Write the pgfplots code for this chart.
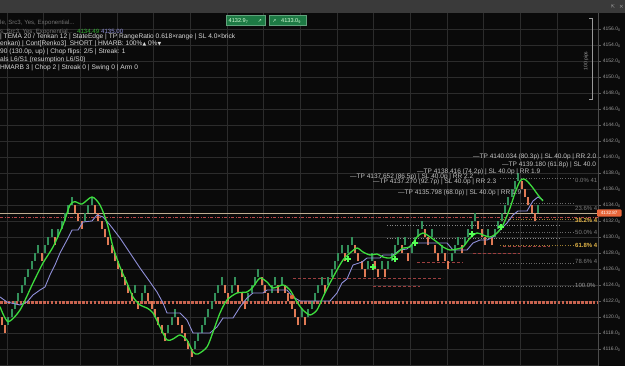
\documentclass[border=0pt]{standalone}
\usepackage{fontspec}
\setmainfont{Liberation Sans}
\newfontfamily\dejavu{DejaVu Sans}
\usepackage{pgfplots}
\pgfplotsset{compat=1.18}
\definecolor{bg}{HTML}{0A0A0A}
\definecolor{topbar}{HTML}{3A3A3A}
\definecolor{gridc}{HTML}{2C2C2C}
\definecolor{bgreen}{HTML}{33905A}
\definecolor{borange}{HTML}{E07A55}
\definecolor{tema}{HTML}{3DDC3D}
\definecolor{tenkan}{HTML}{9090DA}
\definecolor{beige}{HTML}{BFAE92}
\definecolor{redd}{HTML}{B84A4A}
\definecolor{salmon}{HTML}{C9634F}
\definecolor{txt}{HTML}{DADADA}
\definecolor{dim}{HTML}{727272}
\definecolor{tpc}{HTML}{C4C4C4}
\definecolor{gold}{HTML}{E2B447}
\definecolor{lab}{HTML}{9A9A9A}
\definecolor{boxg}{HTML}{1D7A44}
\definecolor{tag}{HTML}{E8663A}
\definecolor{fibc}{HTML}{6A6A6A}
\definecolor{sig}{HTML}{55FF55}
\begin{document}
\begin{tikzpicture}[x=1pt,y=1pt]
\useasboundingbox (0,0) rectangle (625,366);
\fill[bg] (0,0) rectangle (625,366);
\begin{axis}[at={(0pt,0pt)}, anchor=south west, scale only axis,
  width=598pt, height=353.3pt,
  xmin=0, xmax=598, ymin=4113.9125, ymax=4158.075,
  axis line style={draw=none},
  xtick={7,43.67,80.33,117,153.67,190.33,227,263.67,300.33,337,373.67,410.33,447,483.67,520.33,557},
  xticklabels={}, xtick style={draw=none},
  ytick={4116,4118,...,4156}, ytick pos=right, yticklabel pos=right,
  extra y ticks={4114}, extra y tick labels={}, extra y tick style={major tick length=0pt},
  tick align=outside, major tick length=3pt,
  ytick style={color=lab!60!black, line width=0.4pt},
  yticklabel={\pgfmathprintnumber[fixed,fixed zerofill,precision=1,1000 sep={},assume math mode=true]{\tick}\raisebox{-0.4ex}{\fontsize{3.6}{4}\selectfont 0}},
  yticklabel style={font=\fontsize{5}{6}\selectfont, text=lab, inner sep=0.5pt, xshift=1.2pt},
  grid=major, major grid style={gridc, line width=0.5pt},
  clip=true]
% level lines
\addplot[salmon, line width=2.6pt, dash pattern=on 2.6pt off 1.3pt] coordinates {(0,4121.88) (598,4121.88)};
\addplot[beige, line width=1.4pt] coordinates {(0,4133.0) (598,4133.0)};
\addplot[redd, line width=0.7pt, dash pattern=on 3pt off 1.5pt on 1pt off 1.5pt] coordinates {(0,4132.54) (598,4132.54)};
% fib dotted lines
\addplot[fibc, line width=0.6pt, dotted] coordinates {(500,4137.4) (573,4137.4)};
\addplot[fibc, line width=0.6pt, dotted] coordinates {(500,4134.2) (573,4134.2)};
\addplot[gold!70!black, line width=0.6pt, dotted] coordinates {(500,4132.2) (573,4132.2)};
\addplot[fibc, line width=0.6pt, dotted] coordinates {(500,4130.65) (573,4130.65)};
\addplot[gold!70!black, line width=0.6pt, dotted] coordinates {(500,4129.06) (573,4129.06)};
\addplot[fibc, line width=0.6pt, dotted] coordinates {(500,4126.8) (573,4126.8)};
\addplot[fibc, line width=0.6pt, dotted] coordinates {(500,4123.9) (573,4123.9)};
\addplot[fibc!80!white, line width=0.6pt, dotted] coordinates {(387,4131.54) (560,4131.54)};
\addplot[fibc!80!white, line width=0.6pt, dotted] coordinates {(387,4129.87) (560,4129.87)};
% red dashed short lines
\addplot[redd!85!black, line width=0.7pt, dash pattern=on 3pt off 2pt] coordinates {(503,4128.9) (550,4128.9)};
\addplot[redd!85!black, line width=0.7pt, dash pattern=on 3pt off 2pt] coordinates {(473,4128.0) (520,4128.0)};
\addplot[redd!85!black, line width=0.7pt, dash pattern=on 3pt off 2pt] coordinates {(417,4126.9) (463,4126.9)};
\addplot[redd!85!black, line width=0.7pt, dash pattern=on 3pt off 2pt] coordinates {(293,4124.9) (443,4124.9)};
\addplot[redd!85!black, line width=0.7pt, dash pattern=on 3pt off 2pt] coordinates {(373,4123.9) (420,4123.9)};
% green bricks
\addplot[bgreen, line width=2pt, quiver={u=0,v=1}] table[x=x,y=y] {
x y
8.4 4119
11.7 4120
15.0 4121
18.4 4122
21.7 4123
25.0 4124
28.4 4125
31.7 4126
35.0 4127
38.4 4128
45.0 4128
48.4 4129
51.7 4130
58.4 4130
61.7 4131
65.0 4132
68.4 4133
71.7 4134
85.0 4132
88.4 4133
91.7 4134
135.0 4123
141.7 4122
145.0 4123
168.4 4118
171.7 4119
175.0 4120
195.0 4116
198.4 4117
201.7 4118
205.0 4119
208.4 4120
211.7 4121
215.0 4122
218.4 4123
221.7 4124
231.7 4123
235.0 4124
248.4 4122
251.7 4123
255.0 4124
258.4 4125
271.7 4123
275.0 4124
281.7 4124
301.7 4120
308.4 4120
311.7 4121
315.0 4122
318.4 4123
321.7 4124
328.4 4124
331.7 4125
335.0 4126
338.4 4127
341.7 4128
348.4 4128
351.7 4129
368.4 4126
371.7 4127
381.7 4126
388.4 4126
391.7 4127
395.0 4128
398.4 4129
405.0 4129
411.7 4128
415.0 4129
418.4 4130
421.7 4131
431.7 4130
441.7 4128
451.7 4127
455.0 4128
458.4 4129
465.0 4129
468.4 4130
471.7 4131
475.0 4132
488.4 4130
495.0 4130
498.4 4131
501.7 4132
505.0 4133
508.4 4134
511.7 4135
515.0 4136
518.4 4137
538.4 4133
};
% orange bricks
\addplot[borange, line width=2pt, quiver={u=0,v=1}] table[x=x,y=y] {
x y
1.7 4119
5.0 4118
41.7 4127
55.0 4129
75.0 4133
78.4 4132
81.7 4131
95.0 4133
98.4 4132
101.7 4131
105.0 4130
108.4 4129
111.7 4128
115.0 4127
118.4 4126
121.7 4125
125.0 4124
128.4 4123
131.7 4122
138.4 4121
148.4 4122
151.7 4121
155.0 4120
158.4 4119
161.7 4118
165.0 4117
178.4 4119
181.7 4118
185.0 4117
188.4 4116
191.7 4115
225.0 4123
228.4 4122
238.4 4123
241.7 4122
245.0 4121
261.7 4124
265.0 4123
268.4 4122
278.4 4123
285.0 4123
288.4 4122
291.7 4121
295.0 4120
298.4 4119
305.0 4119
325.0 4123
345.0 4127
355.0 4128
358.4 4127
361.7 4126
365.0 4125
375.0 4126
378.4 4125
385.0 4125
401.7 4128
408.4 4127
425.0 4130
428.4 4129
435.0 4128
438.4 4127
445.0 4127
448.4 4126
461.7 4128
478.4 4131
481.7 4130
485.0 4129
491.7 4129
521.7 4136
525.0 4135
528.4 4134
531.7 4133
535.0 4132
};
% Tenkan (purple)
\addplot[tenkan, line width=0.9pt] coordinates {
(0,4122.54) (7,4121.91) (20,4121.54) (27,4121.91) (33,4122.79) (40,4123.41) (45,4123.79)
(50,4125.29) (55,4126.54) (60,4128.04) (67,4129.66) (72,4130.91) (78,4130.91) (83,4131.91)
(92,4132.04) (97,4132.79) (103,4132.54) (110,4131.54) (120,4129.91) (130,4128.04) (140,4126.16)
(150,4124.41) (157,4123.16) (163,4121.79) (167,4120.54) (180,4120.54) (187,4119.66) (193,4118.04)
(210,4118.04) (217,4118.79) (223,4119.91) (233,4119.91) (240,4121.29) (247,4122.41) (253,4123.04)
(263,4123.04) (267,4123.41) (287,4123.41) (293,4122.54) (300,4122.04) (330,4122.04) (337,4123.04)
(342,4124.29) (347,4124.79) (353,4126.54) (362,4126.91) (367,4127.41) (380,4127.41) (383,4127.79)
(393,4127.79) (400,4128.41) (407,4128.54) (413,4129.29) (447,4129.29) (453,4128.41) (467,4128.41)
(473,4129.29) (480,4129.66) (487,4129.66) (493,4130.04) (500,4130.91) (507,4131.79) (513,4132.79)
(518,4133.29) (527,4133.29) (533,4134.54) (538,4135.04) (543,4134.66)
};
% TEMA (green)
\addplot[tema, line width=1.3pt, smooth, tension=0.45] coordinates {
(0,4121.33) (8,4119.45) (20,4120.91) (33,4124.29) (43,4126.79) (53,4128.79) (63,4131.54)
(70,4134.04) (75,4134.45) (82,4134.16) (92,4135.04) (100,4134.04) (107,4131.79) (113,4128.79)
(120,4126.29) (127,4124.29) (133,4122.54) (140,4121.54) (147,4121.16) (153,4120.54) (160,4118.79)
(167,4117.16) (173,4117.29) (180,4117.79) (187,4117.16) (193,4115.66) (198,4115.41) (207,4116.29)
(213,4118.16) (220,4120.54) (227,4122.16) (237,4123.04) (247,4123.16) (253,4123.79) (260,4124.91)
(267,4124.41) (273,4123.66) (283,4124.04) (290,4123.41) (297,4121.91) (303,4120.91) (310,4120.29)
(317,4120.91) (323,4122.54) (330,4124.29) (337,4125.91) (343,4127.16) (350,4128.04) (357,4128.66)
(363,4128.16) (370,4127.79) (377,4127.91) (383,4127.54) (390,4127.41) (397,4128.04) (403,4128.66)
(410,4128.79) (417,4130.04) (423,4130.54) (430,4130.04) (437,4129.41) (443,4128.79) (450,4128.41)
(457,4128.54) (463,4128.79) (470,4129.91) (477,4130.54) (483,4130.29) (490,4130.04) (497,4130.54)
(503,4131.54) (510,4133.66) (515,4135.54) (520,4137.04) (524,4137.29) (528,4136.91) (533,4136.16)
(538,4135.29) (543,4134.54)
};
% signal markers
\addplot[only marks, mark=*, mark size=1.5pt, sig] coordinates {
(348,4127.29) (373,4126.29) (395,4127.29) (415,4129.29) (472,4130.41) (501,4131.29)};
\addplot[only marks, mark=+, mark size=3pt, line width=1.1pt, sig] coordinates {
(348,4127.29) (373,4126.29) (395,4127.29) (415,4129.29) (472,4130.41) (501,4131.29)};
\addplot[only marks, mark=*, mark size=2pt, color=tag] coordinates {(292,4122.54)};
\end{axis}
% separator and top bar
\draw[color=black!70!white, line width=0.7pt] (598,0) -- (598,353.3);
\fill[topbar] (0,353.3) rectangle (625,366);
\node[text=lab, font=\dejavu\fontsize{5}{6}\selectfont, inner sep=0] at (613,359.6) {⇱};
\node[text=lab, font=\dejavu\fontsize{5.5}{6}\selectfont, inner sep=0] at (621.5,359.6) {×};
% 100 pips bracket
\draw[color=lab, line width=0.5pt] (589,348) -- (592,348) -- (592,267) -- (589,267);
\node[text=lab, rotate=90, font=\fontsize{5}{6}\selectfont, inner sep=0] at (586,305) {100 pips};
% price tag
\fill[tag, rounded corners=1pt] (597,149.3) rectangle (621.5,156.5);
\node[text=white, font=\fontsize{4.6}{5}\selectfont, inner sep=0] at (609.2,152.9) {4132.87};
% green boxes
\draw[fill=boxg, draw=boxg!70!white, line width=0.4pt] (226,340.3) rectangle (265,350.3);
\node[text=white!85!green, font=\fontsize{5.6}{6}\selectfont, inner sep=0, anchor=west] at (228.5,345.3) {4132.9\raisebox{-0.3ex}{\fontsize{3.8}{4}\selectfont 7}};
\node[text=white!85!green, font=\dejavu\fontsize{4.8}{5}\selectfont, inner sep=0] at (259.8,345.3) {↗};
\draw[fill=boxg, draw=boxg!70!white, line width=0.4pt] (269,340.3) rectangle (306,350.3);
\node[text=white!85!green, font=\dejavu\fontsize{4.8}{5}\selectfont, inner sep=0] at (274.5,345.3) {↗};
\node[text=white!85!green, font=\fontsize{5.6}{6}\selectfont, inner sep=0, anchor=west] at (281,345.3) {4133.0\raisebox{-0.3ex}{\fontsize{3.8}{4}\selectfont 9}};
% top-left info text
\begin{scope}[every node/.style={anchor=west, inner sep=0, font=\fontsize{6.6}{7.5}\selectfont}]
\node[text=dim, font=\fontsize{6.1}{7}\selectfont] at (0,343.3) {le, Src3, Yes, Exponential...};
\node[text=dim, font=\fontsize{6.1}{7}\selectfont] at (0,334.3) {s, Src3, Yes, Exponential...};
\node[text=tema!80!black, font=\fontsize{6.1}{7}\selectfont] at (77,334.3) {4134.49};
\node[text=tenkan, font=\fontsize{6.1}{7}\selectfont] at (101,334.3) {4135.00};
\node[text=txt] at (0,328.7) {| TEMA 20 / Tenkan 12 | StateEdge | TP RangeRatio 0.618×range | SL 4.0×brick};
\node[text=txt] at (0,321.7) {enkan) | Cont[Renko3]\ \ SHORT | HMARB: 100\%{\dejavu\fontsize{4.8}{5}\selectfont ▲} 0\%{\dejavu\fontsize{4.8}{5}\selectfont ▼}};
\node[text=txt] at (0,313.7) {90 (130.0p, up) | Chop flips: 2/5 | Streak: 1};
\node[text=txt] at (0,306) {als L6/S1 (resumption L6/S0)};
\node[text=txt] at (0,298.3) {HMARB 3 | Chop 2 | Streak 0 | Swing 0 | Arm 0};
\end{scope}
% annotations
\begin{scope}
\clip (0,0) rectangle (597.6,353.3);
\begin{scope}[every node/.style={anchor=west, inner sep=0, text=tpc, font=\fontsize{6.5}{7.5}\selectfont}]
\node at (473,209.3) {—TP 4140.034 (80.3p) | SL 40.0p | RR 2.0};
\node at (502,201) {—TP 4139.180 (61.8p) | SL 40.0};
\node at (417,194.3) {—TP 4138.416 (74.2p) | SL 40.0p | RR 1.9};
\node at (350,189.3) {—TP 4137.652 (86.5p) | SL 40.0p | RR 2.2};
\node at (373,184.3) {—TP 4137.270 (92.7p) | SL 40.0p | RR 2.3};
\node at (398,173.3) {—TP 4135.798 (68.0p) | SL 40.0p | RR 1.9};
\end{scope}
\begin{scope}[every node/.style={anchor=west, inner sep=0, font=\fontsize{6}{7}\selectfont}]
\node[text=lab!80!black] at (575,186) {0.0\% 41};
\node[text=lab!80!black] at (575,158) {23.6\% 4};
\node[text=gold] at (575,146) {\bfseries 38.2\% 4};
\node[text=lab!80!black] at (575,134) {50.0\% 4};
\node[text=gold] at (575,121) {\bfseries 61.8\% 4};
\node[text=lab!80!black] at (575,105) {78.6\% 4};
\node[text=lab] at (575,81) {100.0\%};
\end{scope}
\end{scope}
\end{tikzpicture}
\end{document}
